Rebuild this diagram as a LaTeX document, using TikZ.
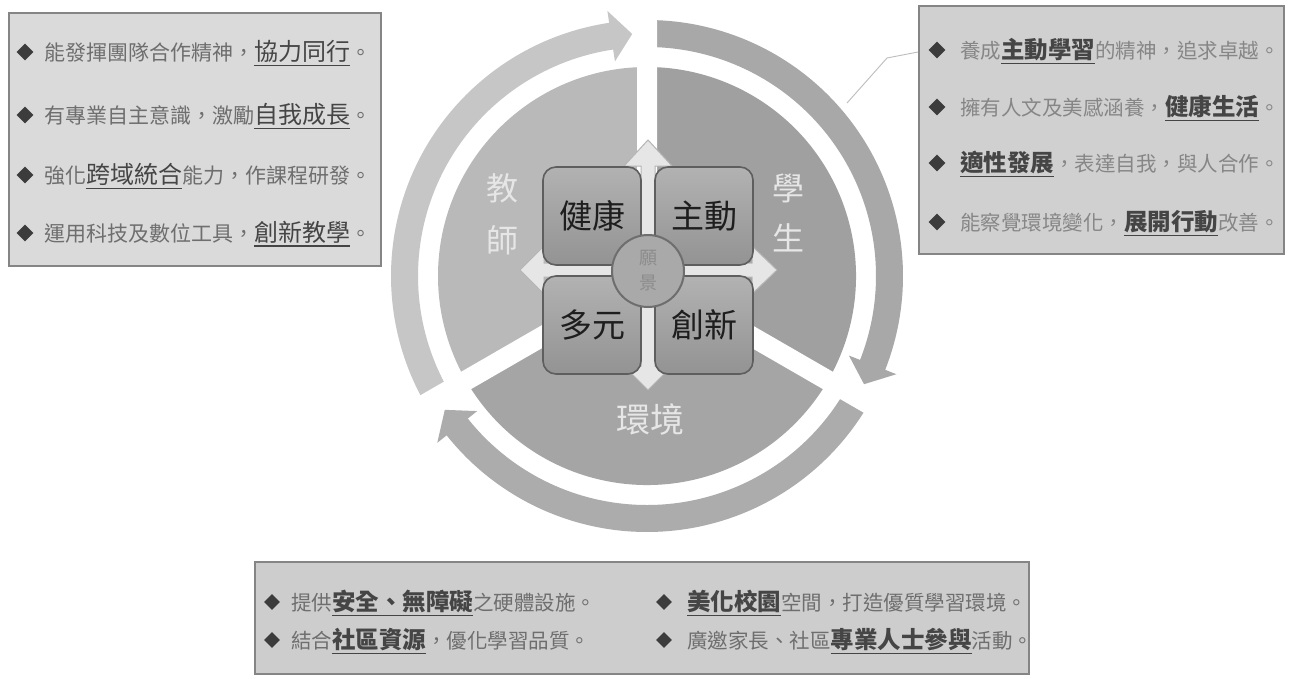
\documentclass[tikz,border=0pt]{standalone}
\usepackage{fontspec}
\setmainfont{Noto Sans CJK TC}
\usetikzlibrary{shapes.geometric}
\definecolor{boxfillL}{HTML}{DADADA}
\definecolor{boxfillR}{HTML}{D0D0D0}
\definecolor{boxfillB}{HTML}{CDCDCD}
\definecolor{boxdraw}{HTML}{858585}
\definecolor{ntext}{HTML}{6E6E6E}
\definecolor{etext}{HTML}{454545}
\definecolor{rntext}{HTML}{868686}
\definecolor{bullc}{HTML}{3C3C3C}
\definecolor{secL}{HTML}{B9B9B9}
\definecolor{secR}{HTML}{A0A0A0}
\definecolor{secB}{HTML}{A5A5A5}
\definecolor{arcL}{HTML}{C6C6C6}
\definecolor{arcR}{HTML}{A8A8A8}
\definecolor{arcB}{HTML}{ACACAC}
\definecolor{qtop}{HTML}{B2B2B2}
\definecolor{qbot}{HTML}{939393}
\definecolor{qborder}{HTML}{5E5E5E}
\definecolor{qtext}{HTML}{1E1E1E}
\definecolor{crossfill}{HTML}{E6E6E6}
\definecolor{crossdraw}{HTML}{B5B5B5}
\definecolor{labc}{HTML}{E6E6E6}
\definecolor{ccfill}{HTML}{A9A9A9}
\definecolor{ccdraw}{HTML}{6E6E6E}
\definecolor{cctext}{HTML}{8C8C8C}
\definecolor{connc}{HTML}{BDBDBD}
\newcommand\myul[1]{\leavevmode\vtop{\hbox{#1}\kern2.5pt\hrule height 1.3pt}}
\newcommand\Lnorm[1]{{\fontsize{21pt}{21pt}\selectfont\color{ntext}#1}}
\newcommand\Lemph[1]{{\fontsize{24pt}{24pt}\selectfont\color{etext}\myul{#1}}}
\newcommand\Rnorm[1]{{\fontsize{20.5pt}{21pt}\selectfont\color{rntext}#1}}
\newcommand\Remph[1]{{\fontsize{23.5pt}{24pt}\selectfont\bfseries\color{etext}\myul{#1}}}
\newcommand\Bnorm[1]{{\fontsize{20.5pt}{21pt}\selectfont\color{ntext}#1}}
\newcommand\Bemph[1]{{\fontsize{23.5pt}{24pt}\selectfont\bfseries\color{etext}\myul{#1}}}
\newcommand\arcarrow[4]{%
  \fill[#1] (#2:229pt) arc[start angle=#2, end angle=#3, radius=229pt]
    -- (#3:217pt) -- (#4:242.5pt) -- (#3:268pt) -- (#3:256pt)
    arc[start angle=#3, end angle=#2, radius=256pt] -- cycle;}
\begin{document}
\begin{tikzpicture}[x=1pt,y=-1pt,
  panel/.style={draw=boxdraw, line width=1.6pt, inner sep=0, anchor=north west},
  txt/.style={anchor=base west, inner sep=0},
  bullet/.style={diamond, fill=bullc, inner sep=0, minimum width=17pt, minimum height=17pt},
  quadbox/.style={draw=qborder, line width=1.6pt, rounded corners=13pt, minimum width=98pt, minimum height=98pt, top color=qtop, bottom color=qbot, inner sep=0, font=\fontsize{33pt}{33pt}\selectfont, text=qtext},
  seclab/.style={inner sep=0, text=labc, font=\fontsize{32pt}{32pt}\selectfont},
  conn/.style={draw=connc, line width=0.9pt}]
\useasboundingbox (0,0) rectangle (1290,678);
\fill[white] (0,0) rectangle (1290,678);

% ---------- circle: sectors, arcs, separators ----------
\begin{scope}[shift={(647,276)}]
  \fill[secL] (0,0) -- (90:209pt) arc[start angle=90, end angle=210, radius=209pt] -- cycle;
  \fill[secR] (0,0) -- (-30:209pt) arc[start angle=-30, end angle=90, radius=209pt] -- cycle;
  \fill[secB] (0,0) -- (210:209pt) arc[start angle=210, end angle=330, radius=209pt] -- cycle;
  \arcarrow{arcL}{211}{98.5}{93.5}
  \arcarrow{arcR}{89}{-21.5}{-26.5}
  \arcarrow{arcB}{-31}{-141.5}{-146.5}
  \draw[white, line width=20pt] (0,0) -- (90:290pt) (0,0) -- (210:290pt) (0,0) -- (330:290pt);
\end{scope}

% ---------- central cross ----------
\begin{scope}[shift={(648,270)}]
  \filldraw[fill=crossfill, draw=crossdraw, line width=1pt, line join=miter]
    (0,-130) -- (24,-104) -- (7,-104) -- (7,-7) -- (104,-7) -- (104,-24) -- (129,0) -- (104,24) -- (104,7) -- (7,7)
    -- (7,96) -- (24,96) -- (0,120) -- (-24,96) -- (-7,96) -- (-7,7) -- (-104,7) -- (-104,24) -- (-128,0)
    -- (-104,-24) -- (-104,-7) -- (-7,-7) -- (-7,-104) -- (-24,-104) -- cycle;
\end{scope}

\node[quadbox] (q1) at (592,216) {健康};
\node[quadbox] (q2) at (704,216) {主動};
\node[quadbox] (q3) at (592,325) {多元};
\node[quadbox] (q4) at (704,325) {創新};
\node[circle, draw=ccdraw, line width=2pt, fill=ccfill, minimum size=72pt, inner sep=0, align=center, text=cctext, font=\fontsize{18pt}{25pt}\selectfont] (vision) at (648,271) {願\\景};

\node[seclab] (jiao) at (502,188) {教};
\node[seclab] (shi) at (502,240) {師};
\node[seclab] (xue) at (788,188) {學};
\node[seclab] (sheng) at (788,238) {生};
\node[seclab, font=\fontsize{34pt}{34pt}\selectfont] (env) at (650,420) {環境};

% ---------- left panel ----------
\node[panel, fill=boxfillL, minimum width=372pt, minimum height=253pt] (lbox) at (8,12) {};
\node[bullet] (lb1) at (25,52) {};
\node[bullet] (lb2) at (25,115) {};
\node[bullet] (lb3) at (25,175) {};
\node[bullet] (lb4) at (25,233) {};
\node[txt] (lt1) at (44,60) {\Lnorm{能發揮團隊合作精神，}\Lemph{協力同行}\Lnorm{。}};
\node[txt] (lt2) at (44,123) {\Lnorm{有專業自主意識，激勵}\Lemph{自我成長}\Lnorm{。}};
\node[txt] (lt3) at (44,183) {\Lnorm{強化}\Lemph{跨域統合}\Lnorm{能力，作課程研發}\Lnorm{。}};
\node[txt] (lt4) at (44,241) {\Lnorm{運用科技及數位工具，}\Lemph{創新教學}\Lnorm{。}};

% ---------- right panel ----------
\node[panel, fill=boxfillR, minimum width=365pt, minimum height=248pt] (rbox) at (918,5) {};
\node[bullet] (rb1) at (937,50) {};
\node[bullet] (rb2) at (937,107) {};
\node[bullet] (rb3) at (937,163) {};
\node[bullet] (rb4) at (937,222) {};
\node[txt] (rt1) at (960,58) {\Rnorm{養成}\Remph{主動學習}\Rnorm{的精神，追求卓越。}};
\node[txt] (rt2) at (960,115) {\Rnorm{擁有人文及美感涵養，}\Remph{健康生活}\Rnorm{。}};
\node[txt] (rt3) at (960,171) {\Remph{適性發展}\Rnorm{，表達自我，與人合作。}};
\node[txt] (rt4) at (960,230) {\Rnorm{能察覺環境變化，}\Remph{展開行動}\Rnorm{改善。}};
\coordinate (cA) at (918,52);
\coordinate (cB) at (887,58);
\coordinate (cC) at (847,103);
\draw[conn] (cA) -- (cB) -- (cC);

% ---------- bottom panel ----------
\node[panel, fill=boxfillB, minimum width=774pt, minimum height=112pt] (bbox) at (254,561) {};
\node[bullet, minimum width=16pt, minimum height=16pt] (bb1) at (272,602) {};
\node[bullet, minimum width=16pt, minimum height=16pt] (bb2) at (272,640) {};
\node[bullet, minimum width=16pt, minimum height=16pt] (bb3) at (664,602) {};
\node[bullet, minimum width=16pt, minimum height=16pt] (bb4) at (664,640) {};
\node[txt] (bt1) at (291,610) {\Bnorm{提供}\Bemph{安全、無障礙}\Bnorm{之硬體設施。}};
\node[txt] (bt2) at (291,648) {\Bnorm{結合}\Bemph{社區資源}\Bnorm{，優化學習品質。}};
\node[txt] (bt3) at (687,610) {\Bemph{美化校園}\Bnorm{空間，打造優質學習環境。}};
\node[txt] (bt4) at (687,648) {\Bnorm{廣邀家長、社區}\Bemph{專業人士參與}\Bnorm{活動。}};
\end{tikzpicture}
\end{document}
